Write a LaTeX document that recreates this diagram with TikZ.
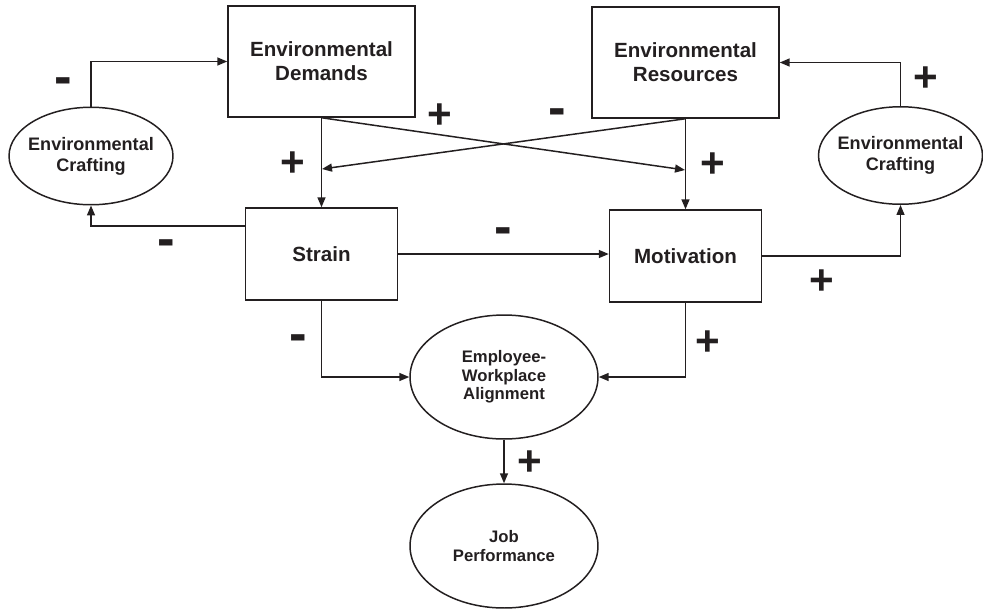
\documentclass[tikz,border=0pt]{standalone}
\usepackage{fontspec}
\setmainfont{Liberation Sans}
\usetikzlibrary{shapes.geometric, arrows.meta}
\definecolor{ink_grey}{RGB}{35, 31, 32}

\begin{document}
\begin{tikzpicture}[x=0.02cm, y=-0.02cm, color=ink_grey,
		bigbox/.style={draw, line width=0.85pt, minimum width=3.74cm, minimum height=2.22cm, align=center, font=\fontsize{11.7}{13.8}\selectfont\bfseries},
		smallbox/.style={draw, line width=0.85pt, minimum width=3.04cm, minimum height=1.84cm, align=center, font=\fontsize{11.7}{13.8}\selectfont\bfseries},
		craft/.style={draw, ellipse, line width=0.85pt, inner xsep=-0.1cm, inner ysep=0pt, minimum width=3.28cm, minimum height=1.95cm, align=center, font=\fontsize{10.3}{12}\selectfont\bfseries},
		outcome/.style={draw, ellipse, line width=0.85pt, inner sep=0pt, minimum width=3.76cm, minimum height=2.48cm, align=center, font=\fontsize{9.5}{10.6}\selectfont\bfseries},
		arr/.style={line width=0.85pt, -{Triangle[length=0.2cm, width=0.16cm]}},
		plus/.style={inner sep=0pt, font=\fontsize{24}{24}\selectfont\bfseries},
		minus/.style={inner sep=0pt, font=\fontsize{30}{30}\selectfont\bfseries}]
	\useasboundingbox (0,0) rectangle (983,609);
	
	% boxes
	\node[bigbox] (dem) at (321.5,61.5) {Environmental\\Demands};
	\node[bigbox] (res) at (685.5,62.5) {Environmental\\Resources};
	\node[smallbox] (stra) at (321.5,254) {Strain};
	\node[smallbox] (mot) at (685.5,256) {Motivation};
	
	% ellipses
	\node[craft] (lcraft) at (91,156) {Environmental\\Crafting};
	\node[craft] (rcraft) at (900.5,155.5) {Environmental\\Crafting};
	\node[outcome] (ewa) at (504,377) {Employee-\\Workplace\\Alignment};
	\node[outcome] (job) at (504,546) {Job\\Performance};
	
	% crossing paths
	\coordinate (xl) at (322,169);
	\coordinate (xr) at (685,170);
	\draw[arr] (dem.south) -- (xr);
	\draw[arr] (res.south) -- (xl);
	
	% connectors
	\draw[arr] (lcraft.north) |- (dem.west);
	\draw[arr] ([yshift=0.56cm]stra.west) -| (lcraft.south);
	\draw[arr] (dem.south) -- (stra.north);
	\draw[arr] (res.south) -- (mot.north);
	\draw[arr] (stra.east) -- (stra.east -| mot.west);
	\draw[arr] (mot.east) -| (rcraft.south);
	\draw[arr] (rcraft.north) |- (res.east);
	\draw[arr] (stra.south) |- (ewa.west);
	\draw[arr] (mot.south) |- (ewa.east);
	\draw[arr] (ewa.south) -- (job.north);
	
	% signs
	\node[minus] (m1) at (63,86) {-};
	\node[plus] (p1) at (293,164) {+};
	\node[plus] (p2) at (440,116) {+};
	\node[minus] (m2) at (557,117) {-};
	\node[plus] (p3) at (713,165) {+};
	\node[plus] (p4) at (926,79) {+};
	\node[minus] (m3) at (166,248) {-};
	\node[minus] (m4) at (503,236) {-};
	\node[plus] (p5) at (822,282) {+};
	\node[minus] (m5) at (298,343) {-};
	\node[plus] (p6) at (708,343) {+};
	\node[plus] (p7) at (530,463) {+};
\end{tikzpicture}
\end{document}
